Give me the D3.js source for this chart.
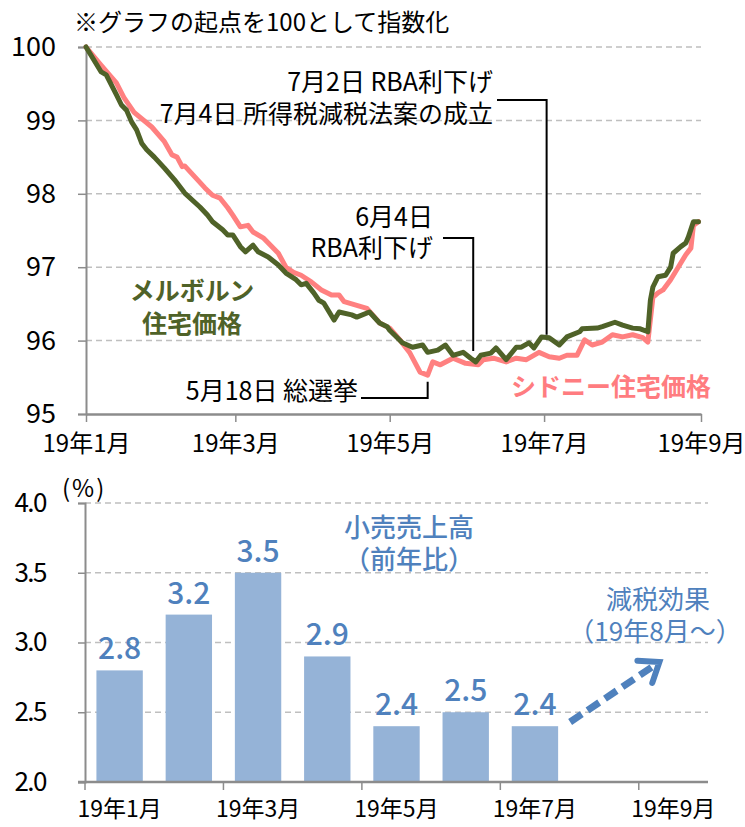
<!DOCTYPE html>
<html><head><meta charset="utf-8">
<script src="https://cdn.jsdelivr.net/npm/d3@7"></script>
<style>body{margin:0;background:#fff}svg{display:block}text{font-family:"Noto Sans CJK JP","Noto Sans",sans-serif}</style>
</head><body><svg id="c" width="745" height="827"></svg>
<script>
// ---------- data: top chart (index, start = 100) ----------
const melbDates = ["2019-01-01","2019-01-07","2019-01-09","2019-01-13","2019-01-15","2019-01-17","2019-01-19","2019-01-21","2019-01-23","2019-01-25","2019-01-28","2019-02-01","2019-02-05","2019-02-09","2019-02-15","2019-02-18","2019-02-20","2019-02-24","2019-02-26","2019-02-28","2019-03-03","2019-03-05","2019-03-08","2019-03-10","2019-03-14","2019-03-18","2019-03-21","2019-03-25","2019-03-27","2019-03-29","2019-04-01","2019-04-03","2019-04-05","2019-04-09","2019-04-11","2019-04-16","2019-04-18","2019-04-23","2019-04-27","2019-04-30","2019-05-01","2019-05-06","2019-05-10","2019-05-14","2019-05-16","2019-05-20","2019-05-23","2019-05-26","2019-05-30","2019-06-02","2019-06-04","2019-06-06","2019-06-10","2019-06-12","2019-06-16","2019-06-20","2019-06-22","2019-06-25","2019-06-27","2019-06-30","2019-07-03","2019-07-07","2019-07-10","2019-07-15","2019-07-16","2019-07-22","2019-07-24","2019-07-29","2019-08-01","2019-08-05","2019-08-08","2019-08-11","2019-08-12","2019-08-13","2019-08-15","2019-08-18","2019-08-20","2019-08-21","2019-08-24","2019-08-26","2019-08-27","2019-08-29","2019-08-31"];
const melbValues = [100.00,99.66,99.62,99.35,99.21,99.14,98.98,98.87,98.69,98.60,98.50,98.35,98.19,98.01,97.82,97.71,97.62,97.51,97.44,97.44,97.28,97.21,97.30,97.21,97.14,97.03,96.92,96.83,96.76,96.78,96.65,96.55,96.51,96.28,96.39,96.35,96.32,96.39,96.24,96.19,96.14,95.97,95.91,95.94,95.84,95.87,95.94,95.80,95.84,95.76,95.71,95.80,95.83,95.90,95.74,95.91,95.91,95.97,95.90,96.05,96.04,95.94,96.05,96.12,96.16,96.17,96.19,96.25,96.21,96.17,96.16,96.12,96.55,96.73,96.87,96.89,97.00,97.19,97.28,97.33,97.41,97.62,97.62];
const sydDates = ["2019-01-01","2019-01-07","2019-01-13","2019-01-16","2019-01-20","2019-01-27","2019-02-01","2019-02-04","2019-02-06","2019-02-08","2019-02-09","2019-02-13","2019-02-17","2019-02-20","2019-02-23","2019-02-26","2019-02-28","2019-03-03","2019-03-06","2019-03-08","2019-03-12","2019-03-18","2019-03-21","2019-03-24","2019-03-27","2019-03-31","2019-04-04","2019-04-08","2019-04-11","2019-04-13","2019-04-22","2019-04-27","2019-05-01","2019-05-05","2019-05-09","2019-05-13","2019-05-16","2019-05-18","2019-05-21","2019-05-26","2019-05-31","2019-06-05","2019-06-07","2019-06-11","2019-06-16","2019-06-20","2019-06-24","2019-06-29","2019-07-03","2019-07-07","2019-07-10","2019-07-14","2019-07-17","2019-07-20","2019-07-24","2019-07-28","2019-08-01","2019-08-05","2019-08-09","2019-08-11","2019-08-13","2019-08-15","2019-08-17","2019-08-20","2019-08-23","2019-08-26","2019-08-28","2019-08-29","2019-08-31"];
const sydValues = [100.00,99.75,99.51,99.31,99.11,98.91,98.71,98.53,98.50,98.37,98.38,98.23,98.08,97.98,97.94,97.81,97.71,97.55,97.57,97.48,97.40,97.19,97.00,96.93,96.89,96.80,96.69,96.62,96.62,96.53,96.44,96.24,96.17,96.01,95.83,95.57,95.53,95.71,95.67,95.76,95.69,95.67,95.74,95.76,95.71,95.76,95.74,95.84,95.78,95.76,95.80,95.80,96.01,95.94,95.98,96.08,96.05,96.08,96.04,95.98,96.59,96.65,96.69,96.83,97.00,97.17,97.26,97.57,97.62];
const topTickDates = ["2019-01-01","2019-03-01","2019-05-01","2019-07-01","2019-09-01"];
const topTickLabels = ["19年1月","19年3月","19年5月","19年7月","19年9月"];
const topYTicks = [95,96,97,98,99,100];

// ---------- data: bottom chart (retail sales, % y/y) ----------
const months = ["19年1月","19年2月","19年3月","19年4月","19年5月","19年6月","19年7月","19年8月","19年9月"];
const retailMonths = ["19年1月","19年2月","19年3月","19年4月","19年5月","19年6月","19年7月"];
const retailValues = [2.8,3.2,3.5,2.9,2.4,2.5,2.4];
const bottomXLabels = ["19年1月","19年3月","19年5月","19年7月","19年9月"];
const bottomYTicks = [2.0,2.5,3.0,3.5,4.0];

const GREEN = "#4f6228", PINK = "#ff8080", BLUE = "#4f81bd", BAR = "#95b3d7";
const GRID = "#bfbfbf", AXIS = "#8c8c8c";
const parse = d3.timeParse("%Y-%m-%d");
const svg = d3.select("#c");

// multi-line text helper (one text element, one tspan per line)
function multi(g, tx, ys, lines, anchor, size, weight, fill) {
  const t = g.append("text").attr("text-anchor", anchor).attr("font-size", size)
    .attr("font-weight", weight).attr("fill", fill);
  lines.forEach((s, i) => t.append("tspan").attr("x", tx).attr("y", ys[i]).text(s));
  return t;
}

// ================= TOP CHART =================
const x = d3.scaleTime().domain([parse("2019-01-01"), parse("2019-09-01")]).range([86, 701]);
const y = d3.scaleLinear().domain([95, 100]).range([414, 47]);

svg.append("text").attr("x", 74).attr("y", 31).attr("font-size", 24).attr("fill", "#000")
  .text("※グラフの起点を100として指数化");

// gridlines
svg.append("g").selectAll("line").data(topYTicks.filter(v => v > 95)).join("line")
  .attr("x1", 86).attr("x2", 701).attr("y1", d => y(d)).attr("y2", d => y(d))
  .attr("stroke", GRID).attr("stroke-width", 1.5).attr("stroke-dasharray", "6,4");

// y axis
const yAx = svg.append("g").attr("transform", "translate(86,0)")
  .call(d3.axisLeft(y).tickValues(topYTicks).tickFormat(d3.format("d")).tickSize(8).tickPadding(22));
yAx.select(".domain").attr("stroke", AXIS).attr("stroke-width", 2);
yAx.selectAll(".tick line").attr("stroke", AXIS).attr("stroke-width", 1.5);
yAx.selectAll("text").attr("font-size", 27).attr("fill", "#000").attr("font-family", "'Noto Sans CJK JP'");

// x axis
const xAx = svg.append("g").attr("transform", "translate(0,414)")
  .call(d3.axisBottom(x).tickValues(topTickDates.map(parse)).tickFormat((d, i) => topTickLabels[i]).tickSize(8).tickSizeOuter(0));
xAx.select(".domain").attr("stroke", AXIS).attr("stroke-width", 2.5);
xAx.selectAll(".tick line").attr("stroke", AXIS).attr("stroke-width", 1.5);
xAx.selectAll("text").attr("font-size", 24).attr("fill", "#000").attr("y", 38).attr("dy", 0)
  .attr("font-family", "'Noto Sans CJK JP'");

// lines
const line = d3.line().x(d => x(d[0])).y(d => y(d[1])).curve(d3.curveLinear);
const sydData = sydDates.map((d, i) => [parse(d), sydValues[i]]);
const melbData = melbDates.map((d, i) => [parse(d), melbValues[i]]);
svg.append("path").datum(sydData).attr("d", line).attr("fill", "none")
  .attr("stroke", PINK).attr("stroke-width", 5).attr("stroke-linejoin", "round").attr("stroke-linecap", "round");
svg.append("path").datum(melbData).attr("d", line).attr("fill", "none")
  .attr("stroke", GREEN).attr("stroke-width", 5).attr("stroke-linejoin", "round").attr("stroke-linecap", "round");

// series labels
multi(svg, 192, [300, 333], ["メルボルン", "住宅価格"], "middle", 25, "bold", GREEN);
svg.append("text").attr("x", 511).attr("y", 396).attr("font-size", 25)
  .attr("font-weight", "bold").attr("fill", "#ff7c80").text("シドニー住宅価格");

// annotations
const ann = svg.append("g");
multi(ann, 493, [91, 123], ["7月2日 RBA利下げ", "7月4日 所得税減税法案の成立"], "end", 25, "normal", "#000");
multi(ann, 433, [226, 257], ["6月4日", "RBA利下げ"], "end", 25, "normal", "#000");
multi(ann, 358, [400], ["5月18日 総選挙"], "end", 25, "normal", "#000");
const xa1 = x(parse("2019-07-02")), xa2 = x(parse("2019-06-03")), xa3 = x(parse("2019-05-16"));
ann.append("path").attr("d", `M497,100H${xa1}V${y(96.08)}`).attr("fill", "none").attr("stroke", "#000").attr("stroke-width", 2);
ann.append("path").attr("d", `M443,238H${xa2}V${y(95.86)}`).attr("fill", "none").attr("stroke", "#000").attr("stroke-width", 2);
ann.append("path").attr("d", `M361,398H${xa3}V${y(95.44)}`).attr("fill", "none").attr("stroke", "#000").attr("stroke-width", 2);

// ================= BOTTOM CHART =================
const xb = d3.scaleBand().domain(months).range([85, 708]).paddingInner(0.33).paddingOuter(0.165);
const yb = d3.scaleLinear().domain([2.0, 4.0]).range([782, 503]);
const step = xb.step();

svg.append("g").selectAll("line").data(bottomYTicks.filter(v => v > 2)).join("line")
  .attr("x1", 85).attr("x2", 708).attr("y1", d => yb(d)).attr("y2", d => yb(d))
  .attr("stroke", GRID).attr("stroke-width", 1.5).attr("stroke-dasharray", "6,4");

const ybAx = svg.append("g").attr("transform", "translate(85,0)")
  .call(d3.axisLeft(yb).tickValues(bottomYTicks).tickFormat(d3.format(".1f")).tickSize(7).tickPadding(32));
ybAx.select(".domain").attr("stroke", AXIS).attr("stroke-width", 2);
ybAx.selectAll(".tick line").attr("stroke", AXIS).attr("stroke-width", 1.5);
ybAx.selectAll("text").attr("font-size", 26).attr("fill", "#000").attr("font-family", "'Noto Sans CJK JP'")
  .attr("letter-spacing", -1.5);

svg.append("text").attr("x", 62).attr("y", 497).attr("font-size", 24).attr("fill", "#000").text("(%)").attr("letter-spacing", 2);

// bars
svg.append("g").selectAll("rect").data(retailValues).join("rect")
  .attr("x", (d, i) => xb(retailMonths[i])).attr("width", xb.bandwidth())
  .attr("y", d => yb(d)).attr("height", d => yb(2.0) - yb(d)).attr("fill", BAR);
svg.append("g").selectAll("text").data(retailValues).join("text")
  .attr("x", (d, i) => xb(retailMonths[i]) + xb.bandwidth() / 2).attr("y", d => yb(d) - 11)
  .attr("text-anchor", "middle").attr("font-size", 30).attr("font-weight", 500).attr("fill", BLUE)
  .text(d => d.toFixed(1));

// x axis bottom
svg.append("line").attr("x1", 78).attr("x2", 708).attr("y1", yb(2.0)).attr("y2", yb(2.0))
  .attr("stroke", AXIS).attr("stroke-width", 2.5);
svg.append("g").selectAll("line").data(bottomXLabels).join("line")
  .attr("x1", d => xb(d) - (step - xb.bandwidth()) / 2).attr("x2", d => xb(d) - (step - xb.bandwidth()) / 2)
  .attr("y1", yb(2.0)).attr("y2", yb(2.0) + 8).attr("stroke", AXIS).attr("stroke-width", 1.5);
svg.append("g").selectAll("text").data(bottomXLabels).join("text")
  .attr("x", d => xb(d) + xb.bandwidth() / 2).attr("y", 817).attr("text-anchor", "middle")
  .attr("font-size", 23).attr("fill", "#000").text(d => d);

// labels
multi(svg, 409, [537, 569], ["小売売上高", "（前年比）"], "middle", 26, 500, BLUE);
const tx2 = multi(svg, 658, [609, 641], ["減税効果", "（19年8月～）"], "middle", 26, "normal", BLUE);
tx2.select("tspan:nth-child(2)").attr("x", 655);

// arrow
const ax0 = xb("19年7月") + xb.bandwidth() + 12, ay0 = yb(2.43);
const ax1 = xb("19年9月") + xb.bandwidth() / 2 - 14, ay1 = yb(2.86);
const dx = ax1 - ax0, dy = ay1 - ay0, L = Math.hypot(dx, dy), ux = dx / L, uy = dy / L;
svg.append("line").attr("x1", ax0).attr("y1", ay0).attr("x2", ax1 - ux * 6).attr("y2", ay1 - uy * 6)
  .attr("stroke", BLUE).attr("stroke-width", 7).attr("stroke-dasharray", "14,7");
const ang = 0.65, hl = 22;
function rot(a) { return [ux * Math.cos(a) - uy * Math.sin(a), ux * Math.sin(a) + uy * Math.cos(a)]; }
const r1 = rot(ang), r2 = rot(-ang);
svg.append("path").attr("d", `M${ax1 - r1[0] * hl},${ay1 - r1[1] * hl}L${ax1},${ay1}L${ax1 - r2[0] * hl},${ay1 - r2[1] * hl}`)
  .attr("fill", "none").attr("stroke", BLUE).attr("stroke-width", 6).attr("stroke-linecap", "round").attr("stroke-linejoin", "miter");
</script></body></html>
